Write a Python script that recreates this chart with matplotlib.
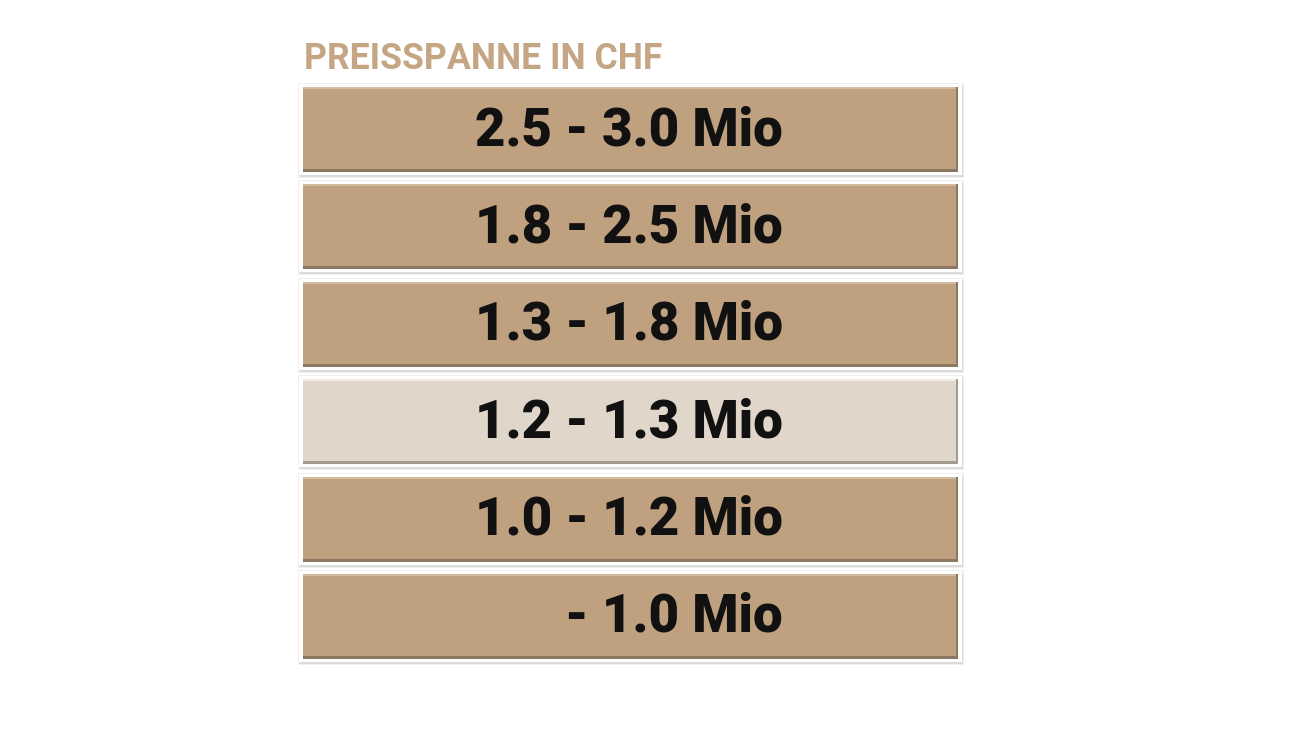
import matplotlib.pyplot as plt
from matplotlib.patches import Rectangle

plt.rcParams['font.family'] = ['Roboto', 'DejaVu Sans']

title = 'PREISSPANNE IN CHF'
labels = ['2.5 - 3.0 Mio', '1.8 - 2.5 Mio', '1.3 - 1.8 Mio',
          '1.2 - 1.3 Mio', '1.0 - 1.2 Mio', '- 1.0 Mio']
highlight = [False, False, False, True, False, False]

tan = '#BFA07F'
light = '#E0D6CA'
title_color = '#C4A684'

fig = plt.figure(figsize=(13, 7.31), dpi=100)
ax = fig.add_axes([0, 0, 1, 1])
ax.set_xlim(0, 1300)
ax.set_ylim(731, 0)
ax.axis('off')

# layout in pixel units
left, right = 299, 962
top0, pitch, h = 84, 97.4, 91
pad = 3

ax.text(304, 69, title, fontsize=25.7, fontweight='bold',
        color=title_color, va='baseline', ha='left')

for i, (lab, hi) in enumerate(zip(labels, highlight)):
    y = top0 + i * pitch
    w = right - left
    # soft shadow around the frame
    ax.add_patch(Rectangle((left - 1, y - 1), w + 3, h + 4, color='#efefef',
                           lw=0, zorder=1))
    ax.add_patch(Rectangle((left + 1, y + 2), w, h, color='#cfcfcf',
                           alpha=0.6, lw=0, zorder=1))
    # white frame
    ax.add_patch(Rectangle((left, y), w, h, color='white', lw=0, zorder=2))
    fill = light if hi else tan
    dark = '#a39a90' if hi else '#8c7760'
    lite = '#f1ebe3' if hi else '#d3bb9d'
    ix, iy = left + pad + 1, y + pad
    iw, ih = w - 2 * pad - 2, h - 2 * pad
    ax.add_patch(Rectangle((ix, iy), iw, ih, color=fill, lw=0, zorder=3))
    ax.add_patch(Rectangle((ix, iy), iw, 2, color=lite, lw=0, zorder=4))
    ax.add_patch(Rectangle((ix + iw - 2, iy), 2, ih, color=dark, lw=0,
                           zorder=4))
    ax.add_patch(Rectangle((ix, iy + ih - 3), iw, 3, color=dark, lw=0,
                           zorder=4))
    ax.text(783, y + h / 2 + 1, lab, fontsize=38, fontweight='black',
            color='#111111', ha='right', va='center', zorder=5)

fig.savefig('out.png', dpi=100, facecolor='white')
